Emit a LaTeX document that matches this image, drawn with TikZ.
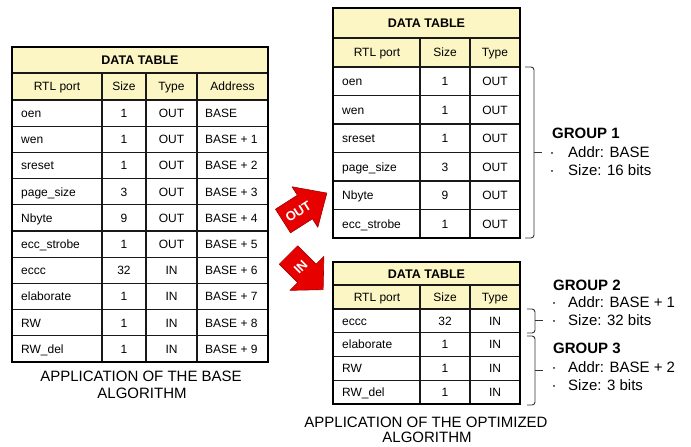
\documentclass[tikz,border=0pt]{standalone}
\usepackage{fontspec}
\setmainfont{Liberation Sans}
\definecolor{hdryellow}{RGB}{252,246,196}
\definecolor{arrowred}{RGB}{230,0,0}
\begin{document}
\begin{tikzpicture}[x=1pt,y=-1pt,
  every node/.style={inner sep=0pt},
  cell/.style={font=\fontsize{12}{14}\selectfont,text height=8.6pt,text depth=0pt},
  titlecell/.style={font=\bfseries\fontsize{12.5}{15}\selectfont,text height=9pt,text depth=0pt},
  captext/.style={font=\fontsize{15}{17}\selectfont,text height=10.7pt,text depth=0pt},
  grouphead/.style={font=\bfseries\fontsize{15}{17}\selectfont,anchor=west,text height=10.7pt,text depth=0pt},
  groupitem/.style={font=\fontsize{15}{17}\selectfont,anchor=west,text height=10.7pt,text depth=0pt},
  bulletdot/.style={font=\fontsize{15}{17}\selectfont,text height=10.7pt,text depth=0pt},
  gridline/.style={line width=1.1pt,draw=black!90},
  border/.style={line width=2.6pt,draw=black},
  bracket/.style={line width=0.9pt,draw=black!80,rounded corners=3pt},
  brackettick/.style={line width=0.9pt,draw=black!80},
  blockarrow/.style={fill=arrowred,draw=arrowred!70!black,line width=0.6pt,line join=round},
  arrowtext/.style={font=\bfseries\fontsize{13}{15}\selectfont,text=white,text height=9.3pt,text depth=0pt}
]
\useasboundingbox (0,0) rectangle (691,447);

% ---------------- base table (left) ----------------
\fill[hdryellow] (12,47) rectangle (268,100);
\foreach \x in {102,146,197} \draw[gridline] (\x,73) -- (\x,362);
\draw[gridline] (12,73) -- (268,73);
\foreach \i in {0,...,9} \draw[gridline] (12,{100+\i*26.2}) -- (268,{100+\i*26.2});
\draw[border] (12,47) rectangle (268,362);

\node[titlecell] (L-title) at (140,60) {DATA TABLE};
\node[cell] (L-h1) at (57,86.5) {RTL port};
\node[cell] (L-h2) at (124,86.5) {Size};
\node[cell] (L-h3) at (171.5,86.5) {Type};
\node[cell] (L-h4) at (232.5,86.5) {Address};

\foreach \n/\s/\t/\a [count=\i] in {oen/1/OUT/BASE, wen/1/OUT/BASE + 1,
    sreset/1/OUT/BASE + 2, page\_size/3/OUT/BASE + 3, Nbyte/9/OUT/BASE + 4,
    ecc\_strobe/1/OUT/BASE + 5, eccc/32/IN/BASE + 6, elaborate/1/IN/BASE + 7,
    RW/1/IN/BASE + 8, RW\_del/1/IN/BASE + 9} {
  \node[cell,anchor=west] (L-p\i) at (21,{100+(\i-0.5)*26.2}) {\n};
  \node[cell] (L-s\i) at (124,{100+(\i-0.5)*26.2}) {\s};
  \node[cell] (L-t\i) at (171.5,{100+(\i-0.5)*26.2}) {\t};
  \node[cell,anchor=west] (L-a\i) at (205,{100+(\i-0.5)*26.2}) {\a};
}

\node[captext] (capL1) at (141,376) {APPLICATION OF THE BASE};
\node[captext] (capL2) at (142,393) {ALGORITHM};

% ---------------- optimized table, OUT group ----------------
\fill[hdryellow] (333,8) rectangle (520,67);
\foreach \x in {420,470} \draw[gridline] (\x,38) -- (\x,238);
\draw[gridline] (333,38) -- (520,38);
\foreach \i in {0,...,5} \draw[gridline] (333,{67+\i*28.5}) -- (520,{67+\i*28.5});
\draw[border] (333,8) rectangle (520,238);

\node[titlecell] (T-title) at (426.5,23) {DATA TABLE};
\node[cell] (T-h1) at (377,52.5) {RTL port};
\node[cell] (T-h2) at (445,52.5) {Size};
\node[cell] (T-h3) at (495,52.5) {Type};
\foreach \n/\s/\t [count=\i] in {oen/1/OUT, wen/1/OUT, sreset/1/OUT,
    page\_size/3/OUT, Nbyte/9/OUT, ecc\_strobe/1/OUT} {
  \node[cell,anchor=west] (T-p\i) at (342,{67+(\i-0.5)*28.5}) {\n};
  \node[cell] (T-s\i) at (445,{67+(\i-0.5)*28.5}) {\s};
  \node[cell] (T-t\i) at (495,{67+(\i-0.5)*28.5}) {\t};
}

% ---------------- optimized table, IN groups ----------------
\fill[hdryellow] (333,262) rectangle (520,309);
\foreach \x in {420,470} \draw[gridline] (\x,285) -- (\x,404);
\draw[gridline] (333,285) -- (520,285);
\foreach \i in {0,...,3} \draw[gridline] (333,{309+\i*23.75}) -- (520,{309+\i*23.75});
\draw[border] (333,262) rectangle (520,404);

\node[titlecell] (B-title) at (426.5,273.5) {DATA TABLE};
\node[cell] (B-h1) at (377,297) {RTL port};
\node[cell] (B-h2) at (445,297) {Size};
\node[cell] (B-h3) at (495,297) {Type};
\foreach \n/\s/\t [count=\i] in {eccc/32/IN, elaborate/1/IN, RW/1/IN, RW\_del/1/IN} {
  \node[cell,anchor=west] (B-p\i) at (342,{309+(\i-0.5)*23.75}) {\n};
  \node[cell] (B-s\i) at (445,{309+(\i-0.5)*23.75}) {\s};
  \node[cell] (B-t\i) at (495,{309+(\i-0.5)*23.75}) {\t};
}

\node[captext] (capR1) at (426,422) {APPLICATION OF THE OPTIMIZED};
\node[captext] (capR2) at (427,437) {ALGORITHM};

% ---------------- block arrows ----------------
\begin{scope}[shift={(283,221)},rotate=32.5]
  \draw[blockarrow] (0,-14) -- (26,-14) -- (26,-24) -- (52,0) -- (26,24) -- (26,14) -- (0,14) -- cycle;
  \node[arrowtext,rotate=32.5] (outlabel) at (18,0) {OUT};
\end{scope}
\begin{scope}[shift={(288.5,255)},rotate=-45]
  \draw[blockarrow] (0,-13) -- (26,-13) -- (26,-24) -- (49,0) -- (26,24) -- (26,13) -- (0,13) -- cycle;
  \node[arrowtext,rotate=45] (inlabel) at (17,0) {IN};
\end{scope}

% ---------------- group brackets ----------------
\draw[bracket] (525,67) -- (534,67) -- (534,238) -- (525,238);
\draw[brackettick] (534,152) -- (542,152);
\draw[bracket] (527,309) -- (535,309) -- (535,333) -- (527,333);
\draw[brackettick] (535,320) -- (543,320);
\draw[bracket] (527,336) -- (535,336) -- (535,405) -- (527,405);
\draw[brackettick] (535,370) -- (543,370);

% ---------------- group descriptions ----------------
\node[grouphead] (g1) at (552,133) {GROUP 1};
\node[bulletdot] (g1-b1) at (552,152) {·};
\node[groupitem] (g1-addr) at (568,152) {Addr: BASE};
\node[bulletdot] (g1-b2) at (552,170) {·};
\node[groupitem] (g1-size) at (568,170) {Size: 16 bits};

\node[grouphead] (g2) at (553,285) {GROUP 2};
\node[bulletdot] (g2-b1) at (554,302) {·};
\node[groupitem] (g2-addr) at (568,302) {Addr: BASE + 1};
\node[bulletdot] (g2-b2) at (554,320) {·};
\node[groupitem] (g2-size) at (568,320) {Size: 32 bits};

\node[grouphead] (g3) at (553,348) {GROUP 3};
\node[bulletdot] (g3-b1) at (554,367) {·};
\node[groupitem] (g3-addr) at (568,367) {Addr: BASE + 2};
\node[bulletdot] (g3-b2) at (554,385) {·};
\node[groupitem] (g3-size) at (568,385) {Size: 3 bits};
\end{tikzpicture}
\end{document}
